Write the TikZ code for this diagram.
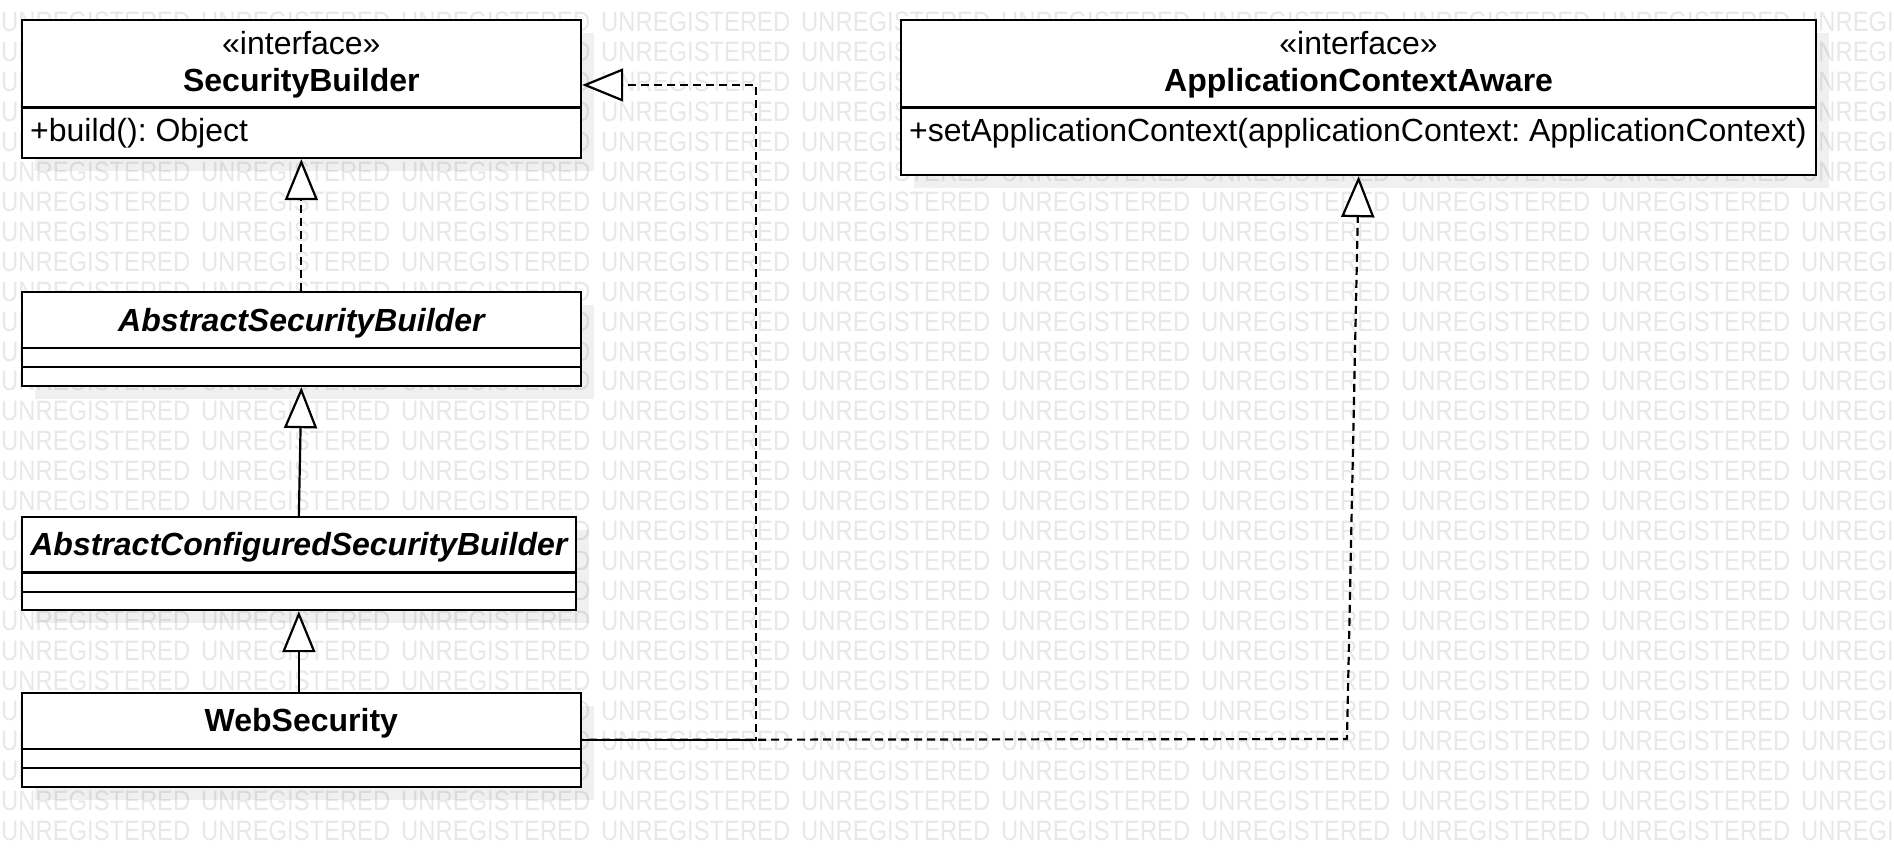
\documentclass[tikz,border=0pt]{standalone}
\usepackage{fontspec}
\setmainfont{Liberation Sans}
\usetikzlibrary{arrows.meta,shadows}
\frenchspacing
\begin{document}
\begin{tikzpicture}[x=1pt,y=-1pt,
  classbox/.style={draw=black, line width=2.2pt, fill=white, inner sep=0pt, anchor=north west,
    drop shadow={shadow xshift=13pt, shadow yshift=-13pt, fill=black, opacity=0.06}},
  divline/.style={draw=black, line width=2.2pt},
  txt/.style={inner sep=0pt, anchor=base, font=\fontsize{32}{38}\selectfont},
  nm/.style={inner sep=0pt, anchor=base, font=\fontsize{32}{38}\selectfont\bfseries},
  anm/.style={inner sep=0pt, anchor=base, font=\fontsize{32}{38}\selectfont\bfseries\itshape},
  op/.style={inner sep=0pt, anchor=base west, font=\fontsize{32}{38}\selectfont\frenchspacing},
  wm/.style={inner sep=0pt, anchor=west, text=black!9, font=\fontsize{28}{28}\selectfont},
  gen/.style={line width=2.2pt, -{Triangle[length=41pt, width=33pt, fill=white]}},
  real/.style={gen, dash pattern=on 8pt off 5pt}
]
\useasboundingbox (0,0) rectangle (1894,866);
\fill[white] (0,0) rectangle (1894,866);

% watermark
\foreach \k in {0,...,27}{
  \foreach \j in {0,...,9}{
    \node[wm] (wm-\k-\j) at ({200*\j+1},{21.7+29.97*\k}) {\scalebox{0.85}[1]{UNREGISTERED}};
  }
}

% boxes
\node[classbox, minimum width=559.5pt, minimum height=137.7pt] (sb) at (20.5,19.3) {};
\node[classbox, minimum width=915pt, minimum height=154.7pt] (aca) at (900,19.3) {};
\node[classbox, minimum width=559.5pt, minimum height=94pt] (asb) at (20.5,291) {};
\node[classbox, minimum width=554.5pt, minimum height=93pt] (acsb) at (20.5,516) {};
\node[classbox, minimum width=559.5pt, minimum height=93.5pt] (ws) at (20.5,692) {};

% dividers
\draw[divline] (sb.west |- 0,107.5) -- (sb.east |- 0,107.5);
\draw[divline] (aca.west |- 0,107.5) -- (aca.east |- 0,107.5);
\draw[divline] (asb.west |- 0,348) -- (asb.east |- 0,348);
\draw[divline] (asb.west |- 0,367) -- (asb.east |- 0,367);
\draw[divline] (acsb.west |- 0,572.5) -- (acsb.east |- 0,572.5);
\draw[divline] (acsb.west |- 0,592) -- (acsb.east |- 0,592);
\draw[divline] (ws.west |- 0,749) -- (ws.east |- 0,749);
\draw[divline] (ws.west |- 0,768) -- (ws.east |- 0,768);

% texts
\node[txt] (sb-st) at (sb.center |- 0,55) {«interface»};
\node[nm] (sb-nm) at (sb.center |- 0,91.5) {SecurityBuilder};
\node[op] (sb-op) at (30,142) {+build(): Object};

\node[txt] (aca-st) at (aca.center |- 0,55) {«interface»};
\node[nm] (aca-nm) at (aca.center |- 0,91.5) {ApplicationContextAware};
\node[op] (aca-op) at (909,142) {+setApplicationContext(applicationContext: ApplicationContext)};

\node[anm] (asb-nm) at (asb.center |- 0,331) {AbstractSecurityBuilder};
\node[anm] (acsb-nm) at (acsb.center |- 0,555.5) {AbstractConfiguredSecurityBuilder};
\node[nm] (ws-nm) at (ws.center |- 0,731.5) {WebSecurity};

% connectors
\draw[real] (asb.north) -- (sb.south);
\draw[gen] (acsb.north) -- (asb.south);
\draw[gen] (ws.north -| acsb.south) -- (acsb.south);

\coordinate (j1) at (756,85);
\coordinate (j2) at (1347,739);
\draw[real] (ws.east) -| (j1) -- (j1 -| sb.east);
\draw[real, dash phase=6pt] (ws.east) -- (j2) -- (aca.south);
\end{tikzpicture}
\end{document}
